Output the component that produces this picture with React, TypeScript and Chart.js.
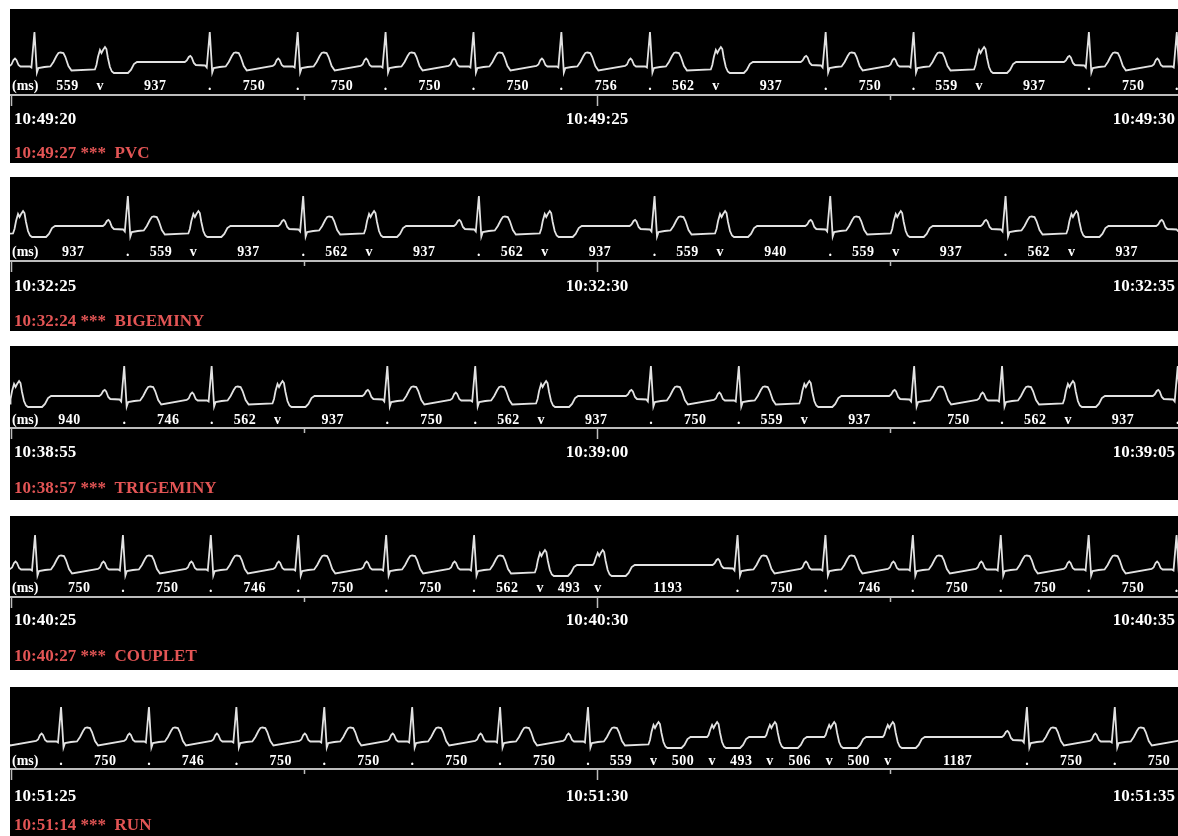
import React, { useEffect, useRef } from 'react';
import { Chart, registerables } from 'chart.js';

Chart.register(...registerables);

// ---------- Beat waveform templates: [ms from beat mark, amplitude] ----------
const normalBeat: number[][] = [
  [-213, 1], [-196, 2.5], [-179, 7], [-166, 8.5], [-154, 7], [-136, 2], [-119, 0.5],
  [-40, 0.5], [-26, -0.5], [0, 35], [21, -5.5], [34, -1], [85, 0], [136, 0.5],
  [162, 5], [188, 11], [205, 14], [222, 14.5], [247, 14], [264, 10], [290, 1], [316, -3.5],
];
const normalAfterPvc: number[][] = [
  [-213, 5], [-196, 6.5], [-179, 10], [-166, 11], [-154, 9.5], [-136, 4], [-119, 2],
  [-40, 1.5], [-26, -0.5], [0, 35], [21, -5.5], [34, -1], [85, 0], [136, 0.5],
  [162, 5], [188, 11], [205, 14], [222, 14.5], [247, 14], [264, 10], [290, 1], [316, -3.5],
];
const pvcBeat: number[][] = [
  [-43, -2.5], [-30, 2], [-17, 10], [0, 17], [13, 14], [26, 17], [43, 20], [55, 18],
  [68, 9], [85, 0], [102, -4.5], [119, -6], [239, -6], [264, -3], [290, 3], [316, 5],
];
const pvcAfterPvc: number[][] = [
  [-43, 5], [-30, 7], [-17, 12], [0, 17], [13, 14], [26, 17], [43, 20], [55, 18],
  [68, 9], [85, 0], [102, -4.5], [119, -6], [239, -6], [264, -3], [290, 3], [316, 5],
];

// ---------- Strip 1: PVC ----------
const s1Types = ['N', 'V', 'N', 'N', 'N', 'N', 'N', 'N', 'V', 'N', 'N', 'V', 'N', 'N'];
const s1Rr = [559, 937, 750, 750, 750, 750, 756, 562, 937, 750, 559, 937, 750];
const s1FirstMs = 200;
const s1LeadMs = 750;
const s1Times = ['10:49:20', '10:49:25', '10:49:30'];
const s1Event = '10:49:27 ***  PVC';

// ---------- Strip 2: BIGEMINY ----------
const s2Types = ['V', 'N', 'V', 'N', 'V', 'N', 'V', 'N', 'V', 'N', 'V', 'N', 'V', 'N'];
const s2Rr = [937, 559, 937, 562, 937, 562, 937, 559, 940, 559, 937, 562, 937];
const s2FirstMs = 60;
const s2LeadMs = 559;
const s2Times = ['10:32:25', '10:32:30', '10:32:35'];
const s2Event = '10:32:24 ***  BIGEMINY';

// ---------- Strip 3: TRIGEMINY ----------
const s3Types = ['V', 'N', 'N', 'V', 'N', 'N', 'V', 'N', 'N', 'V', 'N', 'N', 'V', 'N'];
const s3Rr = [940, 746, 562, 937, 750, 562, 937, 750, 559, 937, 750, 562, 937];
const s3FirstMs = 26;
const s3LeadMs = 562;
const s3Times = ['10:38:55', '10:39:00', '10:39:05'];
const s3Event = '10:38:57 ***  TRIGEMINY';

// ---------- Strip 4: COUPLET ----------
const s4Types = ['N', 'N', 'N', 'N', 'N', 'N', 'V', 'V', 'N', 'N', 'N', 'N', 'N', 'N'];
const s4Rr = [750, 750, 746, 750, 750, 562, 493, 1193, 750, 746, 750, 750, 750];
const s4FirstMs = 205;
const s4LeadMs = 750;
const s4Times = ['10:40:25', '10:40:30', '10:40:35'];
const s4Event = '10:40:27 ***  COUPLET';

// ---------- Strip 5: RUN ----------
const s5Types = ['N', 'N', 'N', 'N', 'N', 'N', 'N', 'V', 'V', 'V', 'V', 'V', 'N', 'N', 'N'];
const s5Rr = [750, 746, 750, 750, 750, 750, 559, 500, 493, 506, 500, 1187, 750, 750];
const s5FirstMs = 427;
const s5LeadMs = 750;
const s5Times = ['10:51:25', '10:51:30', '10:51:35'];
const s5Event = '10:51:14 ***  RUN';

const tickSeconds = [0, 2.5, 5, 7.5, 10];

// ---------- Layout (pixels) ----------
const PX_PER_SEC = 117.2;
const STRIP_W = 1168;
const STRIP_H = 154;
const layouts = [
  { top: 9, base: 58, labelY: 77, axisY: 86, timeY: 111, eventY: 145 },
  { top: 177, base: 54, labelY: 75, axisY: 84, timeY: 110, eventY: 145 },
  { top: 346, base: 55, labelY: 74, axisY: 82, timeY: 107, eventY: 143 },
  { top: 516, base: 54, labelY: 72, axisY: 81, timeY: 105, eventY: 141 },
  { top: 687, base: 55, labelY: 74, axisY: 82, timeY: 110, eventY: 139 },
];

type StripCfg = {
  types: string[];
  rr: number[];
  firstMs: number;
  leadMs: number;
  times: string[];
  event: string;
  markFirst: boolean;
};

const strips: StripCfg[] = [
  { types: s1Types, rr: s1Rr, firstMs: s1FirstMs, leadMs: s1LeadMs, times: s1Times, event: s1Event, markFirst: false },
  { types: s2Types, rr: s2Rr, firstMs: s2FirstMs, leadMs: s2LeadMs, times: s2Times, event: s2Event, markFirst: false },
  { types: s3Types, rr: s3Rr, firstMs: s3FirstMs, leadMs: s3LeadMs, times: s3Times, event: s3Event, markFirst: false },
  { types: s4Types, rr: s4Rr, firstMs: s4FirstMs, leadMs: s4LeadMs, times: s4Times, event: s4Event, markFirst: false },
  { types: s5Types, rr: s5Rr, firstMs: s5FirstMs, leadMs: s5LeadMs, times: s5Times, event: s5Event, markFirst: true },
];

const SERIF = '"Liberation Serif", "Times New Roman", serif';

function Strip({ cfg, lay }: { cfg: StripCfg; lay: typeof layouts[number] }) {
  const ref = useRef<HTMLCanvasElement>(null);

  useEffect(() => {
    const canvas = ref.current;
    if (!canvas) return;

    const beatTimes: number[] = [cfg.firstMs];
    cfg.rr.forEach((r, i) => beatTimes.push(beatTimes[i] + r));

    const pts: { x: number; y: number }[] = [];
    const addBeat = (t: number, tpl: number[][]) =>
      tpl.forEach(([dt, a]) => pts.push({ x: (t + dt) / 1000, y: a }));

    addBeat(cfg.firstMs - cfg.leadMs, normalBeat);
    let prev = 'N';
    beatTimes.forEach((t, i) => {
      const ty = cfg.types[i];
      const tpl =
        ty === 'V'
          ? prev === 'V' ? pvcAfterPvc : pvcBeat
          : prev === 'V' ? normalAfterPvc : normalBeat;
      addBeat(t, tpl);
      prev = ty;
    });

    const xMin = -1 / PX_PER_SEC;
    const xMax = xMin + STRIP_W / PX_PER_SEC;

    const textPlugin = {
      id: 'ecgText',
      afterDraw(chart: any) {
        const ctx: CanvasRenderingContext2D = chart.ctx;
        const xs = chart.scales.x;
        const W = chart.width;
        ctx.save();

        // axis line and ticks
        ctx.strokeStyle = '#bcbcbc';
        ctx.lineWidth = 2;
        ctx.beginPath();
        ctx.moveTo(0, lay.axisY);
        ctx.lineTo(W, lay.axisY);
        ctx.stroke();
        ctx.lineWidth = 1.5;
        tickSeconds.forEach((s) => {
          const px = Math.round(xs.getPixelForValue(s)) + 0.5;
          const len = s % 5 === 0 ? 11 : 5;
          ctx.beginPath();
          ctx.moveTo(px, lay.axisY);
          ctx.lineTo(px, lay.axisY + len);
          ctx.stroke();
        });

        // RR interval row
        ctx.fillStyle = '#ffffff';
        ctx.textBaseline = 'middle';
        ctx.font = `bold 14px ${SERIF}`;
        ctx.textAlign = 'left';
        ctx.fillText('(ms)', 2, lay.labelY);
        (ctx as any).letterSpacing = '0.5px';
        ctx.textAlign = 'center';
        cfg.rr.forEach((r, i) => {
          const mid = (beatTimes[i] + beatTimes[i + 1]) / 2000;
          ctx.fillText(String(r), xs.getPixelForValue(mid) + 0.3, lay.labelY);
        });
        (ctx as any).letterSpacing = '0px';
        beatTimes.forEach((t, i) => {
          if (i === 0 && !cfg.markFirst) return;
          const mark = cfg.types[i] === 'V' ? 'v' : '.';
          ctx.fillText(mark, xs.getPixelForValue(t / 1000), lay.labelY);
        });

        // time labels
        ctx.font = `bold 17px ${SERIF}`;
        ctx.textAlign = 'left';
        ctx.fillText(cfg.times[0], 4, lay.timeY);
        ctx.textAlign = 'center';
        ctx.fillText(cfg.times[1], xs.getPixelForValue(5), lay.timeY);
        ctx.textAlign = 'right';
        ctx.fillText(cfg.times[2], W - 3, lay.timeY);

        // event label
        ctx.fillStyle = '#e35555';
        ctx.textAlign = 'left';
        ctx.fillText(cfg.event, 4, lay.eventY);
        ctx.restore();
      },
    };

    const chart = new Chart(canvas, {
      type: 'line',
      data: {
        datasets: [
          {
            data: pts,
            borderColor: '#e2e2e2',
            borderWidth: 1.8,
            pointRadius: 0,
            tension: 0,
            fill: false,
          },
        ],
      },
      options: {
        animation: false,
        responsive: false,
        devicePixelRatio: 1,
        events: [],
        layout: { padding: 0 },
        plugins: { legend: { display: false }, tooltip: { enabled: false } },
        scales: {
          x: { type: 'linear', display: false, min: xMin, max: xMax },
          y: { type: 'linear', display: false, min: lay.base - STRIP_H, max: lay.base },
        },
      },
      plugins: [textPlugin],
    } as any);

    return () => chart.destroy();
  }, [cfg, lay]);

  return (
    <div
      style={{
        position: 'absolute',
        left: 10,
        top: lay.top,
        width: STRIP_W,
        height: STRIP_H,
        background: '#000',
      }}
    >
      <canvas ref={ref} width={STRIP_W} height={STRIP_H} style={{ display: 'block' }} />
    </div>
  );
}

export default function App() {
  return (
    <div
      style={{
        position: 'absolute',
        left: 0,
        top: 0,
        width: 1178,
        height: 836,
        overflow: 'hidden',
        background: '#fff',
      }}
    >
      {strips.map((cfg, i) => (
        <Strip key={i} cfg={cfg} lay={layouts[i]} />
      ))}
    </div>
  );
}
